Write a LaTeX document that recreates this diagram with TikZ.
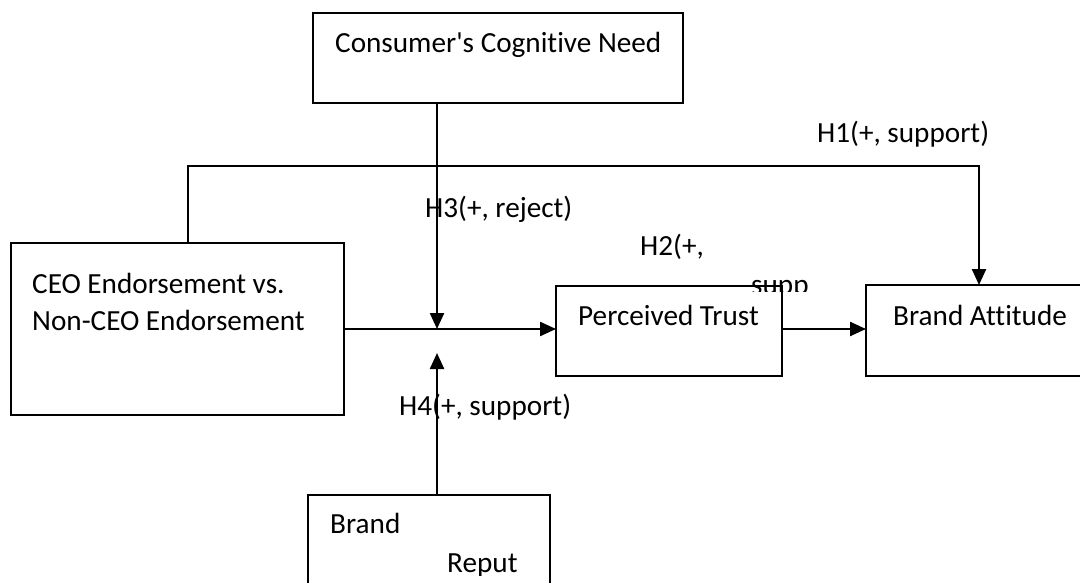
\documentclass[tikz,border=0pt]{standalone}
\usepackage{fontspec}
\setmainfont{Carlito}[Ligatures={TeXOff,NoCommon}]
\usetikzlibrary{arrows.meta,positioning,calc}

\begin{document}
\begin{tikzpicture}[
    x=1pt, y=-1pt,
    box/.style={rectangle, draw, line width=1.6pt, inner sep=0pt, outer sep=0pt},
    txt/.style={anchor=base west, inner sep=0pt, font=\fontsize{29.2}{37}\selectfont},
    arrow/.style={-{Triangle[length=16pt,width=14pt]}, line width=2.3pt}
]
    \clip (0,0) rectangle (1080,583);
    \fill[white] (0,0) rectangle (1080,583);

    % Boxes
    \node[box, minimum width=370pt, minimum height=90pt] (need) at (498,58) {};
    \node[box, minimum width=333pt, minimum height=172pt] (ceo) at (177.5,329) {};
    \node[box, minimum width=226pt, minimum height=90pt] (trust) at (669,331) {};
    \node[box, minimum width=244pt, minimum height=91pt] (attitude) at (988,330.5) {};
    \node[box, minimum width=242pt, minimum height=125pt] (reput) at (429,557.5) {};

    % Box texts
    \node[txt] (needtxt) at (335,53) {Consumer's Cognitive Need};
    \node[txt] (ceotxt) at (32,293) {CEO Endorsement vs.};
    \node[txt] (ceotxtb) at (32,330) {Non-CEO Endorsement};
    \node[txt] (trusttxt) at (578,325) {Perceived Trust};
    \node[txt] (atttxt) at (893,325) {Brand Attitude};
    \node[txt] (reputtxt) at (330,533) {Brand};
    \begin{scope}
        \clip (300,540) rectangle (560,575);
        \node[txt] (reputtxtb) at (447,572) {Reput};
    \end{scope}

    % Junction points
    \coordinate (mid) at (437,329);
    \coordinate (modtip) at (437,353);
    \coordinate (h1left) at (188,166);
    \coordinate (h1right) at (979,166);

    % Arrows
    \draw[arrow] (mid |- need.south) -- (mid);
    \draw[arrow] (reput.north -| mid) -- (modtip);
    \draw[arrow] (ceo.east |- mid) -- (trust.west |- mid);
    \draw[arrow] (trust.east |- mid) -- (attitude.west |- mid);
    \draw[arrow] (ceo.north -| h1left) -- (h1left) -- (h1right) -- (attitude.north -| h1right);

    % Hypothesis labels
    \node[txt] (h1) at (817,143) {H1(+, support)};
    \node[txt] (h3) at (425,218) {H3(+, reject)};
    \node[txt] (h2) at (640,255) {H2(+,};
    \begin{scope}
        \clip (740,270) rectangle (820,291);
        \node[txt] (h2b) at (751,294) {supp};
    \end{scope}
    \node[txt] (h4) at (399,415) {H4(+, support)};
\end{tikzpicture}
\end{document}
